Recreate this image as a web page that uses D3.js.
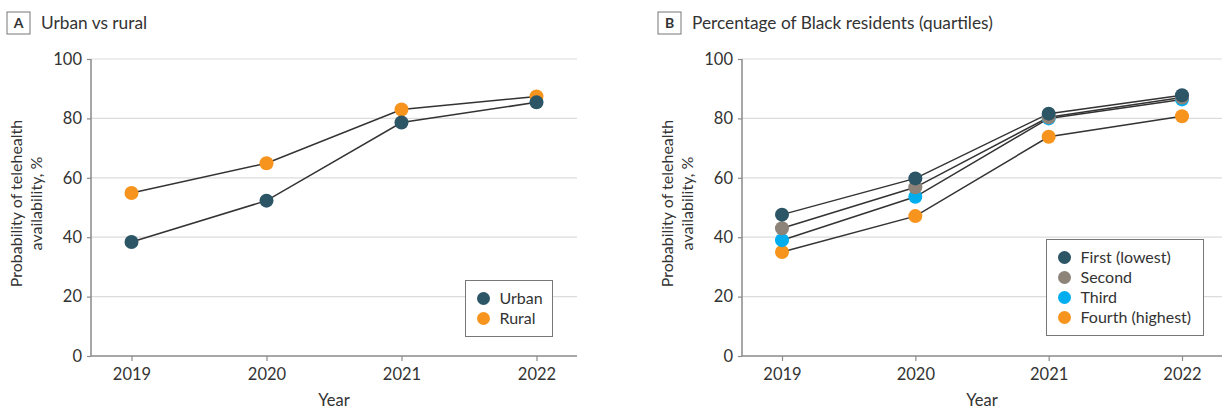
<!DOCTYPE html>
<html>
<head>
<meta charset="utf-8">
<script src="https://cdn.jsdelivr.net/npm/d3@7"></script>
<style>
  html, body { margin: 0; padding: 0; background: #fff; }
  svg { display: block; font-family: Lato, "Open Sans", sans-serif; }
</style>
</head>
<body>
<svg id="chart" width="1225" height="410"></svg>
<script>
// Years on the x axis and y-axis ticks shared by both panels
const years = [2019, 2020, 2021, 2022];
const yTicks = [0, 20, 40, 60, 80, 100];

// Panel A: urban vs rural
const urban = [38.4, 52.3, 78.6, 85.4];
const rural = [54.9, 64.9, 83.0, 87.4];

// Panel B: quartiles of Black residents
const firstQ  = [47.6, 59.8, 81.6, 87.8];
const secondQ = [43.0, 56.8, 80.4, 87.0];
const thirdQ  = [39.0, 53.6, 80.0, 86.4];
const fourthQ = [35.0, 47.1, 73.8, 80.7];

const colors = {
  dark: "#2c5566",
  orange: "#f7941d",
  gray: "#8d8378",
  blue: "#00aeef"
};

const svg = d3.select("#chart");
const textColor = "#333";

function panel(opts) {
  const g = svg.append("g");
  const x = d3.scaleLinear().domain([2018.7, 2022.3]).range([opts.left, opts.right]);
  const y = d3.scaleLinear().domain([0, 100]).range([opts.bottom, opts.top]);

  // panel letter box and title
  g.append("rect")
    .attr("x", opts.boxX).attr("y", 12).attr("width", 23).attr("height", 22)
    .attr("fill", "#fff").attr("stroke", "#777").attr("stroke-width", 1);
  g.append("text")
    .attr("x", opts.boxX + 11.5).attr("y", 28)
    .attr("text-anchor", "middle").attr("font-size", 14).attr("font-weight", 700)
    .attr("fill", textColor).text(opts.letter);
  g.append("text")
    .attr("x", opts.boxX + 34).attr("y", 29)
    .attr("font-size", 17.3).attr("fill", textColor).text(opts.title);

  // gridlines
  g.append("g").selectAll("line").data(yTicks.filter(d => d > 0)).join("line")
    .attr("x1", opts.left).attr("x2", opts.right)
    .attr("y1", d => y(d)).attr("y2", d => y(d))
    .attr("stroke", "#dcdcdc").attr("stroke-width", 1.2);

  // y axis
  const yAxis = g.append("g").attr("transform", `translate(${opts.left},0)`)
    .call(d3.axisLeft(y).tickValues(yTicks).tickSize(4).tickPadding(5));
  yAxis.select(".domain").attr("stroke", "#8a8a8a").attr("stroke-width", 1.5)
    .attr("d", `M0,${opts.bottom}V${opts.top}`);
  yAxis.selectAll(".tick line").attr("stroke", "#8a8a8a").attr("stroke-width", 1.2);
  yAxis.selectAll(".tick text").attr("font-size", 16.5).attr("fill", textColor)
    .attr("font-family", "Lato, sans-serif");

  // x axis
  const xAxis = g.append("g").attr("transform", `translate(0,${opts.bottom})`)
    .call(d3.axisBottom(x).tickValues(years).tickFormat(d3.format("d")).tickSize(5).tickPadding(7));
  xAxis.select(".domain").attr("stroke", "#8a8a8a").attr("stroke-width", 1.5)
    .attr("d", `M${opts.left},0H${opts.right}`);
  xAxis.selectAll(".tick line").attr("stroke", "#8a8a8a").attr("stroke-width", 1.2);
  xAxis.selectAll(".tick text").attr("font-size", 16.5).attr("fill", textColor)
    .attr("font-family", "Lato, sans-serif");

  // axis titles
  g.append("text")
    .attr("x", (opts.left + opts.right) / 2).attr("y", 406)
    .attr("text-anchor", "middle").attr("font-size", 16.5).attr("fill", textColor).text("Year");
  const yt = g.append("text")
    .attr("transform", `translate(${opts.left - 69},${(opts.top + opts.bottom) / 2 - 4}) rotate(-90)`)
    .attr("text-anchor", "middle").attr("font-size", 16).attr("fill", textColor);
  yt.append("tspan").attr("x", 0).attr("dy", 0).text("Probability of telehealth");
  yt.append("tspan").attr("x", 0).attr("dy", 20).text("availability, %");

  // series lines then points
  const line = d3.line().x((d, i) => x(years[i])).y(d => y(d));
  opts.series.forEach(s => {
    g.append("path").datum(s.values).attr("d", line)
      .attr("fill", "none").attr("stroke", "#333").attr("stroke-width", 1.5);
  });
  opts.series.slice().reverse().forEach(s => {
    g.append("g").selectAll("circle").data(s.values).join("circle")
      .attr("cx", (d, i) => x(years[i])).attr("cy", d => y(d)).attr("r", 7)
      .attr("fill", s.color);
  });

  // legend
  const lg = g.append("g");
  const rowH = 20;
  lg.append("rect")
    .attr("x", opts.legend.x).attr("y", opts.legend.y)
    .attr("width", opts.legend.w).attr("height", opts.series.length * rowH + 16)
    .attr("fill", "#fff").attr("stroke", "#777").attr("stroke-width", 1);
  opts.series.forEach((s, i) => {
    const cy = opts.legend.y + 18 + i * rowH;
    lg.append("circle").attr("cx", opts.legend.x + 18).attr("cy", cy).attr("r", 6.5).attr("fill", s.color);
    lg.append("text").attr("x", opts.legend.x + 34).attr("y", cy + 5.5)
      .attr("font-size", 16).attr("fill", textColor).text(s.name);
  });
}

panel({
  letter: "A", title: "Urban vs rural", boxX: 7,
  left: 91, right: 577, top: 59, bottom: 356,
  series: [
    { name: "Urban", values: urban, color: colors.dark },
    { name: "Rural", values: rural, color: colors.orange }
  ],
  legend: { x: 465.5, y: 280.5, w: 87 }
});

panel({
  letter: "B", title: "Percentage of Black residents (quartiles)", boxX: 658,
  left: 742, right: 1222, top: 59, bottom: 356,
  series: [
    { name: "First (lowest)", values: firstQ, color: colors.dark },
    { name: "Second", values: secondQ, color: colors.gray },
    { name: "Third", values: thirdQ, color: colors.blue },
    { name: "Fourth (highest)", values: fourthQ, color: colors.orange }
  ],
  legend: { x: 1046.5, y: 239.5, w: 157 }
});
</script>
</body>
</html>
